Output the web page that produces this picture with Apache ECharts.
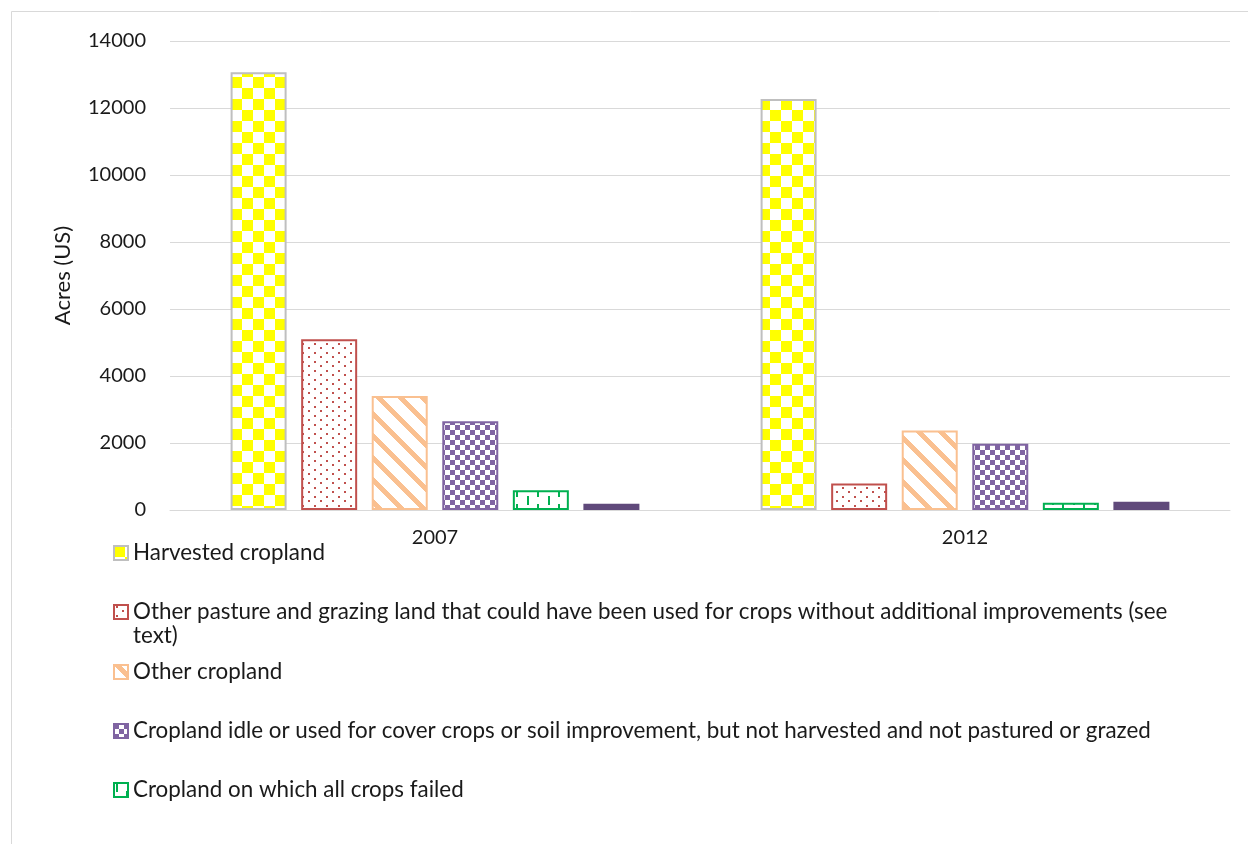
<!DOCTYPE html>
<html><head><meta charset="utf-8">
<script src="https://cdn.jsdelivr.net/npm/echarts@6/dist/echarts.min.js"></script>
<style>html,body{margin:0;padding:0;background:#fff}#c{width:1248px;height:844px}</style>
</head><body><div id="c"></div>
<script>
var categories = ['2007', '2012'];
var seriesNames = [
  'Harvested cropland',
  'Other pasture and grazing land that could have been used for crops without additional improvements (see text)',
  'Other cropland',
  'Cropland idle or used for cover crops or soil improvement, but not harvested and not pastured or grazed',
  'Cropland on which all crops failed',
  'Cropland used only for pasture or grazing'
];
var harvested = [13070, 12270];
var otherPasture = [5100, 790];
var otherCropland = [3400, 2370];
var idle = [2650, 1980];
var failed = [590, 220];
var pastureOnly = [185, 250];
var yTicks = [0, 2000, 4000, 6000, 8000, 10000, 12000, 14000];

var FONT = 'Lato';

function mk(w, h, draw) {
  var c = document.createElement('canvas'); c.width = w; c.height = h;
  var g = c.getContext('2d'); g.fillStyle = '#fff'; g.fillRect(0, 0, w, h); draw(g); return c;
}
var pYellow = mk(22, 22, function (g) { g.fillStyle = '#FFFF00'; g.fillRect(0, 0, 11, 11); g.fillRect(11, 11, 11, 11); });
var pRed = mk(12, 9, function (g) { g.fillStyle = '#C0504D'; g.fillRect(2, 1, 2, 2); g.fillRect(8, 5, 2, 2); });
var pOrange = mk(22, 22, function (g) {
  g.fillStyle = '#FAC090';
  for (var x = 0; x < 22; x++) for (var y = 0; y < 22; y++) { if ((((x - y) % 22) + 22) % 22 < 7) g.fillRect(x, y, 1, 1); }
});
var pPurple = mk(10, 10, function (g) { g.fillStyle = '#8064A2'; g.fillRect(0, 0, 5, 5); g.fillRect(5, 5, 5, 5); });
var pGreen = mk(21, 16, function (g) { g.fillStyle = '#00B050'; g.fillRect(2, 0, 2, 9); g.fillRect(12, 8, 2, 8); g.fillRect(12, 0, 2, 1); });
var pDark = mk(10, 8, function (g) { g.fillStyle = '#604A7B'; g.fillRect(0, 0, 10, 8); g.fillStyle = '#fff'; g.fillRect(3, 5, 4, 2); });

var fills = [pYellow, pRed, pOrange, pPurple, pGreen, pDark];
var borders = ['#BFBFBF', '#C0504D', '#FAC090', '#8064A2', '#00B050', '#604A7B'];
var datas = [harvested, otherPasture, otherCropland, idle, failed, pastureOnly];

var series = seriesNames.map(function (n, i) {
  return {
    name: n, type: 'bar', data: datas[i], barWidth: 56, barGap: '26%',
    itemStyle: { color: { image: fills[i], repeat: 'repeat' }, borderColor: borders[i], borderWidth: 2 },
    emphasis: { disabled: true }, animation: false
  };
});

var legendTops = [553, 612, 672, 731, 790];
var legends = legendTops.map(function (t, i) {
  return {
    data: [seriesNames[i]], left: 113, top: t - 12, orient: 'vertical', padding: 0,
    itemWidth: 14, itemHeight: 14, itemGap: 0, icon: 'rect', selectedMode: false,
    formatter: function (name) { return name.replace(' (see text)', ' (see'); },
    textStyle: { fontFamily: FONT, fontSize: 22.4, color: '#1a1a1a', lineHeight: 24 }
  };
});

var chart = echarts.init(document.getElementById('c'), null, { renderer: 'canvas' });
chart.setOption({
  animation: false,
  backgroundColor: '#fff',
  grid: { left: 170, right: 18, top: 41, bottom: 334 },
  xAxis: {
    type: 'category', data: categories,
    axisLine: { lineStyle: { color: '#d9d9d9', width: 1 } }, axisTick: { show: false },
    axisLabel: { fontFamily: FONT, fontSize: 20, color: '#1a1a1a', margin: 18 }
  },
  yAxis: {
    type: 'value', min: yTicks[0], max: yTicks[yTicks.length - 1], interval: 2000,
    name: 'Acres (US)', nameLocation: 'middle', nameGap: 96,
    nameTextStyle: { fontFamily: FONT, fontSize: 22, color: '#1a1a1a' },
    axisLine: { show: false }, axisTick: { show: false },
    axisLabel: { fontFamily: FONT, fontSize: 20, color: '#1a1a1a', margin: 24, formatter: function (v) { return String(v); } },
    splitLine: { lineStyle: { color: '#d9d9d9', width: 1 } }
  },
  legend: legends,
  series: series,
  graphic: [
    { type: 'rect', shape: { x: 11.5, y: 11.5, width: 1245, height: 845 }, style: { fill: 'none', stroke: '#d9d9d9', lineWidth: 1 }, silent: true },
    { type: 'text', left: 133, top: 625, style: { text: 'text)', fontFamily: FONT, fontSize: 22.4, fill: '#1a1a1a' } }
  ]
});
</script></body></html>
